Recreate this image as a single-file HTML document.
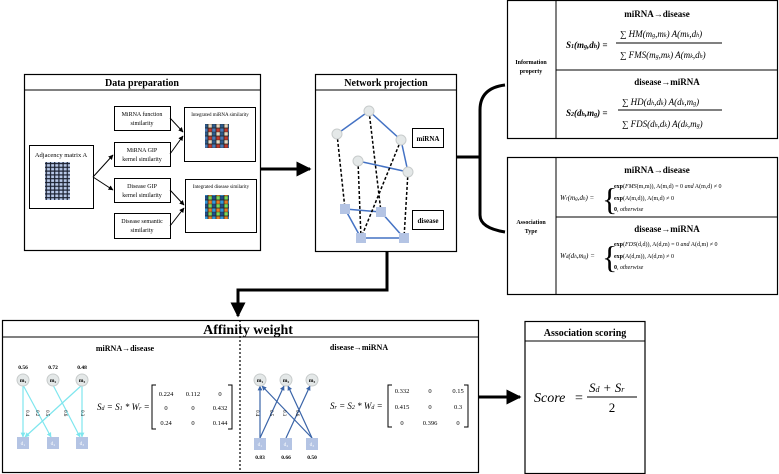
<!DOCTYPE html>
<html><head><meta charset="utf-8"><style>
html,body{margin:0;padding:0;background:#fff;}
svg{display:block;font-family:"Liberation Serif",serif;}
.b{font-weight:bold;}
</style></head><body>
<svg width="779" height="474" viewBox="0 0 779 474" xmlns="http://www.w3.org/2000/svg">
<defs>
<marker id="ah" viewBox="0 0 10 10" refX="9" refY="5" markerWidth="5" markerHeight="5" orient="auto"><path d="M0,0L10,5L0,10z" fill="#000"/></marker>
<marker id="ac" viewBox="0 0 10 10" refX="9" refY="5" markerWidth="4" markerHeight="4" orient="auto"><path d="M0,0L10,5L0,10z" fill="#7ee6ee"/></marker>
<marker id="ab" viewBox="0 0 10 10" refX="9" refY="5" markerWidth="4" markerHeight="4" orient="auto"><path d="M0,0L10,5L0,10z" fill="#3a64a8"/></marker>
<pattern id="adj" width="4.2" height="3.8" patternUnits="userSpaceOnUse"><rect width="4.2" height="3.8" fill="#1a2030"/><rect x="0.7" y="0.7" width="3" height="2.6" fill="#b8c8e8"/></pattern>
<pattern id="hm1" width="8" height="8" patternUnits="userSpaceOnUse"><rect width="8" height="8" fill="#222"/><rect x=".4" y=".4" width="3.4" height="3.4" fill="#c0392b"/><rect x="4.2" y=".4" width="3.4" height="3.4" fill="#4a7ab8"/><rect x=".4" y="4.2" width="3.4" height="3.4" fill="#e8d8c0"/><rect x="4.2" y="4.2" width="3.4" height="3.4" fill="#2c5a8c"/></pattern>
<pattern id="hm2" width="8" height="8" patternUnits="userSpaceOnUse"><rect width="8" height="8" fill="#222"/><rect x=".4" y=".4" width="3.4" height="3.4" fill="#e67e22"/><rect x="4.2" y=".4" width="3.4" height="3.4" fill="#3498db"/><rect x=".4" y="4.2" width="3.4" height="3.4" fill="#7ed957"/><rect x="4.2" y="4.2" width="3.4" height="3.4" fill="#1f4e8c"/></pattern>
</defs>

<!-- Data preparation -->
<rect x="24.5" y="74.5" width="236" height="176" fill="none" stroke="#000" stroke-width="1.2"/>
<line x1="24" y1="90" x2="261" y2="90" stroke="#000"/>
<text x="142" y="86" font-size="10" class="b" text-anchor="middle">Data preparation</text>
<rect x="29.5" y="145.5" width="64" height="63" fill="none" stroke="#000"/>
<text x="61" y="157" font-size="6.5" text-anchor="middle">Adjacency matrix A</text>
<rect x="45" y="162" width="25" height="38" fill="url(#adj)"/>
<rect x="114.5" y="106.5" width="56" height="24" fill="none" stroke="#000"/>
<text x="142" y="116" font-size="6" text-anchor="middle">MiRNA function</text><text x="142" y="125" font-size="6" text-anchor="middle">similarity</text>
<rect x="114.5" y="142.5" width="56" height="24" fill="none" stroke="#000"/>
<text x="142" y="152" font-size="6" text-anchor="middle">MiRNA GIP</text><text x="142" y="161" font-size="6" text-anchor="middle">kernel similarity</text>
<rect x="114.5" y="178.5" width="56" height="24" fill="none" stroke="#000"/>
<text x="142" y="188" font-size="6" text-anchor="middle">Disease GIP</text><text x="142" y="197" font-size="6" text-anchor="middle">kernel similarity</text>
<rect x="114.5" y="213.5" width="56" height="25" fill="none" stroke="#000"/>
<text x="142" y="223" font-size="6" text-anchor="middle">Disease semantic</text><text x="142" y="232" font-size="6" text-anchor="middle">similarity</text>
<rect x="184.5" y="107.5" width="71" height="54" fill="none" stroke="#000"/>
<text x="220" y="116" font-size="5" text-anchor="middle">Integrated miRNA similarity</text>
<rect x="205" y="124" width="24" height="24" fill="url(#hm1)"/>
<rect x="185.5" y="179.5" width="71" height="53" fill="none" stroke="#000"/>
<text x="221" y="188" font-size="5" text-anchor="middle">Integrated disease similarity</text>
<rect x="205" y="195" width="24" height="24" fill="url(#hm2)"/>
<g stroke="#000" stroke-width="1" marker-end="url(#ah)">
<line x1="93" y1="177" x2="113" y2="155"/><line x1="93" y1="177" x2="113" y2="190"/>
<line x1="170" y1="118" x2="183" y2="132"/><line x1="170" y1="154" x2="183" y2="136"/>
<line x1="170" y1="190" x2="184" y2="205"/><line x1="170" y1="226" x2="184" y2="208"/>
</g>
<line x1="261" y1="169" x2="310" y2="169" stroke="#000" stroke-width="3" marker-end="url(#ah)"/>

<!-- Network projection -->
<rect x="315.5" y="74.5" width="141" height="177" fill="none" stroke="#000" stroke-width="1.2"/>
<line x1="315" y1="90" x2="457" y2="90" stroke="#000"/>
<text x="386" y="86" font-size="10" class="b" text-anchor="middle">Network projection</text>
<g stroke="#4472c4" stroke-width="1.5">
<line x1="369" y1="111" x2="337" y2="134"/><line x1="369" y1="111" x2="401" y2="140"/><line x1="401" y1="140" x2="408" y2="172"/><line x1="358" y1="161" x2="408" y2="172"/>
<line x1="345" y1="209" x2="381" y2="212"/><line x1="345" y1="209" x2="361" y2="238"/><line x1="381" y1="212" x2="404" y2="238"/><line x1="361" y1="238" x2="404" y2="238"/>
</g>
<g stroke="#000" stroke-width="1.5" stroke-dasharray="3,2">
<line x1="337" y1="134" x2="345" y2="209"/><line x1="369" y1="111" x2="381" y2="212"/><line x1="358" y1="161" x2="361" y2="238"/><line x1="401" y1="140" x2="361" y2="238"/><line x1="408" y1="172" x2="404" y2="238"/>
</g>
<g fill="#e4e8e8" stroke="#c8cccc"><circle cx="369" cy="111" r="5"/><circle cx="337" cy="134" r="5"/><circle cx="401" cy="140" r="5"/><circle cx="358" cy="161" r="5"/><circle cx="408" cy="172" r="5"/></g>
<g fill="#b4c4e4"><rect x="340" y="204" width="10" height="10"/><rect x="376" y="207" width="10" height="10"/><rect x="356" y="233" width="10" height="10"/><rect x="399" y="233" width="10" height="10"/></g>
<rect x="412.5" y="128.5" width="31" height="19" fill="#fff" stroke="#000"/><text x="428" y="141" font-size="7" class="b" text-anchor="middle">miRNA</text>
<rect x="412.5" y="210.5" width="31" height="19" fill="#fff" stroke="#000"/><text x="428" y="223" font-size="7" class="b" text-anchor="middle">disease</text>
<line x1="457" y1="157" x2="481" y2="157" stroke="#000" stroke-width="3"/>
<path d="M505,85 Q480,88 480,110 L480,215 Q480,228 505,232" fill="none" stroke="#000" stroke-width="3"/>
<polyline points="387,252 387,290 238,290 238,316" fill="none" stroke="#000" stroke-width="3" marker-end="url(#ah)"/>

<!-- Information property -->
<rect x="507.5" y="0.5" width="270" height="138" fill="none" stroke="#000" stroke-width="1.2"/>
<line x1="556" y1="0" x2="556" y2="138" stroke="#000"/><line x1="556" y1="70" x2="778" y2="70" stroke="#000"/>
<text x="531" y="64" font-size="6" class="b" text-anchor="middle">Information</text><text x="531" y="73" font-size="6" class="b" text-anchor="middle">property</text>
<text x="657" y="17" font-size="9" class="b" text-anchor="middle">miRNA→disease</text>
<text x="566" y="48" font-size="9" font-style="italic" font-weight="bold">S<tspan font-size="6">1</tspan>(m<tspan font-size="6">g</tspan>,d<tspan font-size="6">h</tspan>) =</text>
<text x="620" y="37" font-size="9" font-style="italic">∑ HM(m<tspan font-size="6">g</tspan>,m<tspan font-size="6">k</tspan>) A(m<tspan font-size="6">k</tspan>,d<tspan font-size="6">h</tspan>)</text>
<line x1="616" y1="43" x2="722" y2="43" stroke="#000" stroke-width="1"/>
<text x="620" y="58" font-size="9" font-style="italic">∑ FMS(m<tspan font-size="6">g</tspan>,m<tspan font-size="6">k</tspan>) A(m<tspan font-size="6">k</tspan>,d<tspan font-size="6">h</tspan>)</text>
<text x="667" y="85" font-size="9" class="b" text-anchor="middle">disease→miRNA</text>
<text x="566" y="116" font-size="9" font-style="italic" font-weight="bold">S<tspan font-size="6">2</tspan>(d<tspan font-size="6">h</tspan>,m<tspan font-size="6">g</tspan>) =</text>
<text x="622" y="105" font-size="9" font-style="italic">∑ HD(d<tspan font-size="6">h</tspan>,d<tspan font-size="6">k</tspan>) A(d<tspan font-size="6">k</tspan>,m<tspan font-size="6">g</tspan>)</text>
<line x1="618" y1="110" x2="722" y2="110" stroke="#000" stroke-width="1"/>
<text x="622" y="127" font-size="9" font-style="italic">∑ FDS(d<tspan font-size="6">h</tspan>,d<tspan font-size="6">k</tspan>) A(d<tspan font-size="6">k</tspan>,m<tspan font-size="6">g</tspan>)</text>

<!-- Association Type -->
<rect x="507.5" y="157.5" width="270" height="137" fill="none" stroke="#000" stroke-width="1.2"/>
<line x1="556" y1="157" x2="556" y2="294" stroke="#000"/><line x1="556" y1="217" x2="778" y2="217" stroke="#000"/>
<text x="531" y="224" font-size="6" class="b" text-anchor="middle">Association</text><text x="531" y="233" font-size="6" class="b" text-anchor="middle">Type</text>
<text x="657" y="173" font-size="9" class="b" text-anchor="middle">miRNA→disease</text>
<text x="560" y="200" font-size="7" font-style="italic">W<tspan font-size="5">r</tspan>(m<tspan font-size="5">g</tspan>,d<tspan font-size="5">h</tspan>) =</text>
<text x="602" y="210" font-size="32" font-weight="100">{</text>
<text x="614" y="188" font-size="6"><tspan class="b">exp</tspan>(<tspan font-style="italic">FMS</tspan>(m,m)),  A(m,d) = 0 <tspan font-style="italic">and</tspan> A(m,d) ≠ 0</text>
<text x="614" y="200" font-size="6"><tspan class="b">exp</tspan>(A(m,d)),  A(m,d) ≠ 0</text>
<text x="614" y="211" font-size="6"><tspan class="b">0</tspan>, <tspan font-style="italic">otherwise</tspan></text>
<text x="667" y="232" font-size="9" class="b" text-anchor="middle">disease→miRNA</text>
<text x="560" y="258" font-size="7" font-style="italic">W<tspan font-size="5">d</tspan>(d<tspan font-size="5">h</tspan>,m<tspan font-size="5">g</tspan>) =</text>
<text x="602" y="268" font-size="32" font-weight="100">{</text>
<text x="614" y="246" font-size="6"><tspan class="b">exp</tspan>(<tspan font-style="italic">FDS</tspan>(d,d)),  A(d,m) = 0 <tspan font-style="italic">and</tspan> A(d,m) ≠ 0</text>
<text x="614" y="258" font-size="6"><tspan class="b">exp</tspan>(A(d,m)),  A(d,m) ≠ 0</text>
<text x="614" y="269" font-size="6"><tspan class="b">0</tspan>, <tspan font-style="italic">otherwise</tspan></text>

<!-- Affinity weight -->
<rect x="2.5" y="320.5" width="476" height="152" fill="none" stroke="#000" stroke-width="1.2"/>
<line x1="2" y1="337" x2="479" y2="337" stroke="#000"/>
<text x="248" y="334" font-size="14" class="b" text-anchor="middle">Affinity weight</text>
<line x1="240" y1="320" x2="240" y2="472" stroke="#000" stroke-width="1.2" stroke-dasharray="2,2"/>
<text x="125" y="351" font-size="8" class="b" text-anchor="middle">miRNA→disease</text>
<text x="359" y="350" font-size="8" class="b" text-anchor="middle">disease→miRNA</text>
<g font-size="5.5" class="b" text-anchor="middle"><text x="23" y="369">0.56</text><text x="53" y="369">0.72</text><text x="82" y="369">0.48</text>
<text x="260" y="459">0.83</text><text x="286" y="459">0.66</text><text x="312" y="459">0.50</text></g>
<g stroke="#7ee6ee" stroke-width="1.2" marker-end="url(#ac)">
<line x1="23" y1="385" x2="23" y2="437"/><line x1="23" y1="385" x2="51" y2="437"/><line x1="82" y1="385" x2="25" y2="437"/><line x1="53" y1="385" x2="80" y2="437"/><line x1="82" y1="385" x2="82" y2="437"/>
</g>
<g stroke="#3a64a8" stroke-width="1.2" marker-end="url(#ab)">
<line x1="260" y1="438" x2="260" y2="386"/><line x1="260" y1="438" x2="284" y2="386"/><line x1="312" y1="438" x2="262" y2="386"/><line x1="312" y1="438" x2="288" y2="386"/><line x1="286" y1="438" x2="310" y2="386"/>
</g>
<g font-size="5" fill="#000"><text x="26" y="410" transform="rotate(90 26 410)">0.4</text><text x="36" y="410" transform="rotate(90 36 410)">0.2</text><text x="46" y="410" transform="rotate(90 46 410)">0.5</text><text x="64" y="410" transform="rotate(90 64 410)">0.6</text><text x="81" y="410" transform="rotate(90 81 410)">0.3</text>
<text x="256" y="410" transform="rotate(90 256 410)">0.4</text><text x="270" y="410" transform="rotate(90 270 410)">0.5</text><text x="283" y="410" transform="rotate(90 283 410)">0.3</text><text x="296" y="410" transform="rotate(90 296 410)">0.6</text></g>
<g fill="#e4e8e8" stroke="#c8cccc"><circle cx="23" cy="380" r="6"/><circle cx="53" cy="380" r="6"/><circle cx="82" cy="380" r="6"/><circle cx="260" cy="380" r="6"/><circle cx="286" cy="380" r="6"/><circle cx="312" cy="380" r="6"/></g>
<g font-size="5.5" class="b" text-anchor="middle"><text x="23" y="382">m₁</text><text x="53" y="382">m₂</text><text x="82" y="382">m₃</text><text x="260" y="382">m₁</text><text x="286" y="382">m₂</text><text x="312" y="382">m₃</text></g>
<g fill="#b4c4e4"><rect x="17" y="437" width="12" height="12"/><rect x="47" y="437" width="12" height="12"/><rect x="76" y="437" width="12" height="12"/><rect x="254" y="438" width="12" height="12"/><rect x="280" y="438" width="12" height="12"/><rect x="306" y="438" width="12" height="12"/></g>
<g font-size="5.5" fill="#fff" text-anchor="middle"><text x="23" y="445">d₁</text><text x="53" y="445">d₂</text><text x="82" y="445">d₃</text><text x="260" y="446">d₁</text><text x="286" y="446">d₂</text><text x="312" y="446">d₃</text></g>
<text x="97" y="410" font-size="9" font-style="italic">S<tspan font-size="6">d</tspan> = S<tspan font-size="6">1</tspan> * W<tspan font-size="6">r</tspan> =</text>
<path d="M156,385 L152,385 L152,429 L156,429 M228,385 L232,385 L232,429 L228,429" fill="none" stroke="#000"/>
<g font-size="6.5" text-anchor="middle"><text x="166" y="396">0.224</text><text x="193" y="396">0.112</text><text x="220" y="396">0</text><text x="166" y="410">0</text><text x="193" y="410">0</text><text x="220" y="410">0.432</text><text x="166" y="425">0.24</text><text x="193" y="425">0</text><text x="220" y="425">0.144</text></g>
<text x="330" y="409" font-size="9" font-style="italic">S<tspan font-size="6">r</tspan> = S<tspan font-size="6">2</tspan> * W<tspan font-size="6">d</tspan> =</text>
<path d="M392,385 L388,385 L388,427 L392,427 M464,385 L468,385 L468,427 L464,427" fill="none" stroke="#000"/>
<g font-size="6.5" text-anchor="middle"><text x="402" y="393">0.332</text><text x="430" y="393">0</text><text x="458" y="393">0.15</text><text x="402" y="409">0.415</text><text x="430" y="409">0</text><text x="458" y="409">0.3</text><text x="402" y="425">0</text><text x="430" y="425">0.396</text><text x="458" y="425">0</text></g>
<line x1="479" y1="397" x2="520" y2="397" stroke="#000" stroke-width="3" marker-end="url(#ah)"/>

<!-- Association scoring -->
<rect x="525" y="321.5" width="120" height="152" fill="none" stroke="#000" stroke-width="1.2"/>
<line x1="525" y1="341" x2="645" y2="341" stroke="#000"/>
<text x="585" y="336" font-size="10" class="b" text-anchor="middle">Association scoring</text>
<text x="534" y="402" font-size="14" font-style="italic">Score</text>
<text x="575" y="402" font-size="14">=</text>
<text x="589" y="392" font-size="13" font-style="italic">S<tspan font-size="8">d</tspan> + S<tspan font-size="8">r</tspan></text>
<line x1="587" y1="397" x2="637" y2="397" stroke="#000"/>
<text x="612" y="412" font-size="13" text-anchor="middle">2</text>
</svg>
</body></html>
